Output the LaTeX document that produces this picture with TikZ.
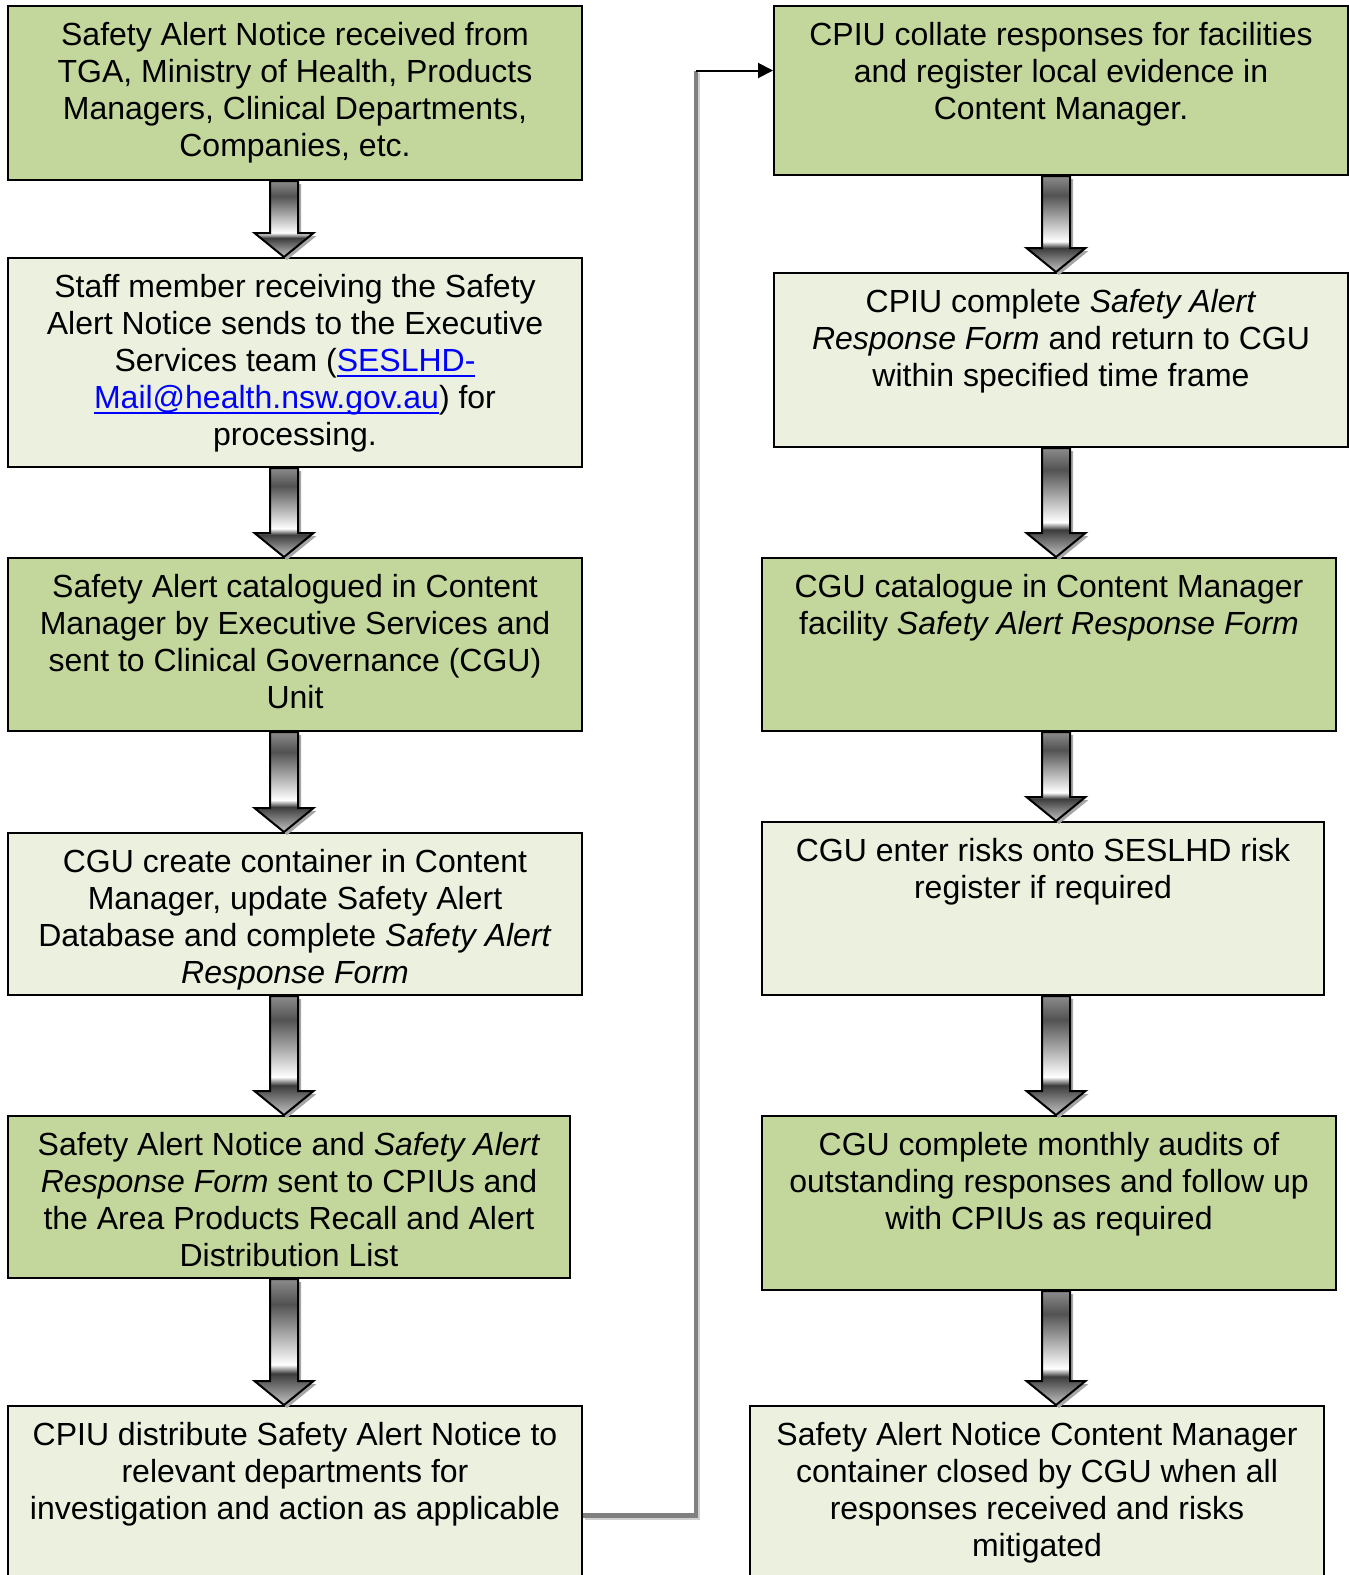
\documentclass[tikz,border=0pt]{standalone}
\usepackage{fontspec}
\setmainfont{Liberation Sans}
\usepackage{xcolor}
\usetikzlibrary{positioning,calc,arrows.meta}

\definecolor{boxgreen}{HTML}{C3D69B}
\definecolor{boxpale}{HTML}{EBF1DE}
\definecolor{linkblue}{HTML}{0000FF}
\definecolor{arrowtop}{HTML}{8C8C8C}
\definecolor{arrowmid}{HTML}{525252}
\definecolor{arrowdark}{HTML}{3C3C3C}
\definecolor{arrowtip}{HTML}{C4C4C4}
\definecolor{feedgray}{HTML}{808080}

\pgfdeclareverticalshading{arrowgrad}{100bp}{color(0bp)=(arrowtip); color(25bp)=(arrowtip); color(37.5bp)=(arrowdark); color(41bp)=(white); color(65bp)=(arrowmid); color(75bp)=(arrowtop); color(100bp)=(arrowtop)}

\tikzset{
  greenbox/.style={draw, line width=1pt, fill=boxgreen, anchor=north west, inner sep=0pt},
  palebox/.style={draw, line width=1pt, fill=boxpale, anchor=north west, inner sep=0pt},
  boxtext/.style={align=center, inner sep=0pt, font=\fontsize{16}{18.5}\selectfont},
  arrowbody/.style={draw=black, line width=1pt, shading=arrowgrad},
  arrowshadow/.style={fill=black!35, transform canvas={shift={(1.5pt,-1.5pt)}}},
  feedline/.style={draw=feedgray, line width=2.4pt,
    preaction={draw=black!18, line width=2.4pt, transform canvas={shift={(1pt,-1pt)}}}},
  feedarrow/.style={-{Triangle[length=7.5pt,width=7.5pt]}, line width=1pt}
}

% mail address, blue and underlined
\newcommand{\maillink}[1]{\textcolor{linkblue}{\setbox0=\hbox{#1}\rlap{\rule[-2.6pt]{\wd0}{0.9pt}}\box0}}

% shaded block arrow between two points
\newcommand{\blockarrow}[2]{%
  \fill[arrowshadow] let \p1=(#1), \p2=(#2) in
    (\x1-7pt,\y1) -- (\x1+7pt,\y1) -- (\x1+7pt,\y2+12pt) -- (\x1+14.75pt,\y2+12pt)
    -- (\x1,\y2) -- (\x1-14.75pt,\y2+12pt) -- (\x1-7pt,\y2+12pt) -- cycle;
  \shadedraw[arrowbody] let \p1=(#1), \p2=(#2) in
    (\x1-7pt,\y1) -- (\x1+7pt,\y1) -- (\x1+7pt,\y2+12pt) -- (\x1+14.75pt,\y2+12pt)
    -- (\x1,\y2) -- (\x1-14.75pt,\y2+12pt) -- (\x1-7pt,\y2+12pt) -- cycle;
}

\begin{document}
\begin{tikzpicture}[x=0.5pt, y=-0.5pt]
    \clip (0,0) rectangle (1349,1575);

    % left column boxes
    \node[greenbox, minimum width=287pt, minimum height=87pt] (l1) at (7,5) {};
    \node[palebox, minimum width=287pt, minimum height=104.5pt] (l2) at (7,257) {};
    \node[greenbox, minimum width=287pt, minimum height=86.5pt] (l3) at (7,557) {};
    \node[palebox, minimum width=287pt, minimum height=81pt] (l4) at (7,832) {};
    \node[greenbox, minimum width=281pt, minimum height=81pt] (l5) at (7,1115) {};
    \node[palebox, minimum width=287pt, minimum height=109.5pt] (l6) at (7,1405) {};

    % right column boxes
    \node[greenbox, minimum width=287pt, minimum height=84.5pt] (r1) at (773,5) {};
    \node[palebox, minimum width=287pt, minimum height=87pt] (r2) at (773,272) {};
    \node[greenbox, minimum width=287pt, minimum height=86.5pt] (r3) at (761,557) {};
    \node[palebox, minimum width=281pt, minimum height=86.5pt] (r4) at (761,821) {};
    \node[greenbox, minimum width=287pt, minimum height=87pt] (r5) at (761,1115) {};
    \node[palebox, minimum width=287pt, minimum height=109.5pt] (r6) at (749,1405) {};

    % texts, hung from the top of each box
    \node[boxtext, below=8.4pt of l1.north] (l1t) {Safety Alert Notice received from\\TGA, Ministry of Health, Products\\Managers, Clinical Departments,\\Companies, etc.};
    \node[boxtext, below=8.4pt of l2.north] (l2t) {Staff member receiving the Safety\\Alert Notice sends to the Executive\\Services team (\maillink{SESLHD-}\\\maillink{Mail@health.nsw.gov.au}) for\\processing.};
    \node[boxtext, below=8.4pt of l3.north] (l3t) {Safety Alert catalogued in Content\\Manager by Executive Services and\\sent to Clinical Governance (CGU)\\Unit};
    \node[boxtext, below=8.4pt of l4.north] (l4t) {CGU create container in Content\\Manager, update Safety Alert\\Database and complete \textit{Safety Alert}\\\textit{Response Form}};
    \node[boxtext, below=8.4pt of l5.north] (l5t) {Safety Alert Notice and \textit{Safety Alert}\\\textit{Response Form} sent to CPIUs and\\the Area Products Recall and Alert\\Distribution List};
    \node[boxtext, below=8.4pt of l6.north] (l6t) {CPIU distribute Safety Alert Notice to\\relevant departments for\\investigation and action as applicable};
    \node[boxtext, below=8.4pt of r1.north] (r1t) {CPIU collate responses for facilities\\and register local evidence in\\Content Manager.};
    \node[boxtext, below=8.4pt of r2.north] (r2t) {CPIU complete \textit{Safety Alert}\\\textit{Response Form} and return to CGU\\within specified time frame};
    \node[boxtext, below=8.4pt of r3.north] (r3t) {CGU catalogue in Content Manager\\facility \textit{Safety Alert Response Form}};
    \node[boxtext, below=8.4pt of r4.north] (r4t) {CGU enter risks onto SESLHD risk\\register if required};
    \node[boxtext, below=8.4pt of r5.north] (r5t) {CGU complete monthly audits of\\outstanding responses and follow up\\with CPIUs as required};
    \node[boxtext, below=8.4pt of r6.north] (r6t) {Safety Alert Notice Content Manager\\container closed by CGU when all\\responses received and risks\\mitigated};

    % axes of the block arrows
    \coordinate (laxis) at (284,0);
    \coordinate (raxis) at (1056,0);

    % block arrows down the left column
    \blockarrow{laxis |- l1.south}{laxis |- l2.north}
    \blockarrow{laxis |- l2.south}{laxis |- l3.north}
    \blockarrow{laxis |- l3.south}{laxis |- l4.north}
    \blockarrow{laxis |- l4.south}{laxis |- l5.north}
    \blockarrow{laxis |- l5.south}{laxis |- l6.north}

    % block arrows down the right column
    \blockarrow{raxis |- r1.south}{raxis |- r2.north}
    \blockarrow{raxis |- r2.south}{raxis |- r3.north}
    \blockarrow{raxis |- r3.south}{raxis |- r4.north}
    \blockarrow{raxis |- r4.south}{raxis |- r5.north}
    \blockarrow{raxis |- r5.south}{raxis |- r6.north}

    % link from the bottom left box up to the top right box
    \coordinate (bend) at (696,70.5);
    \draw[feedline] (l6.east) -| (bend);
    \draw[feedarrow] (bend) -- (bend -| r1.west);
\end{tikzpicture}
\end{document}
